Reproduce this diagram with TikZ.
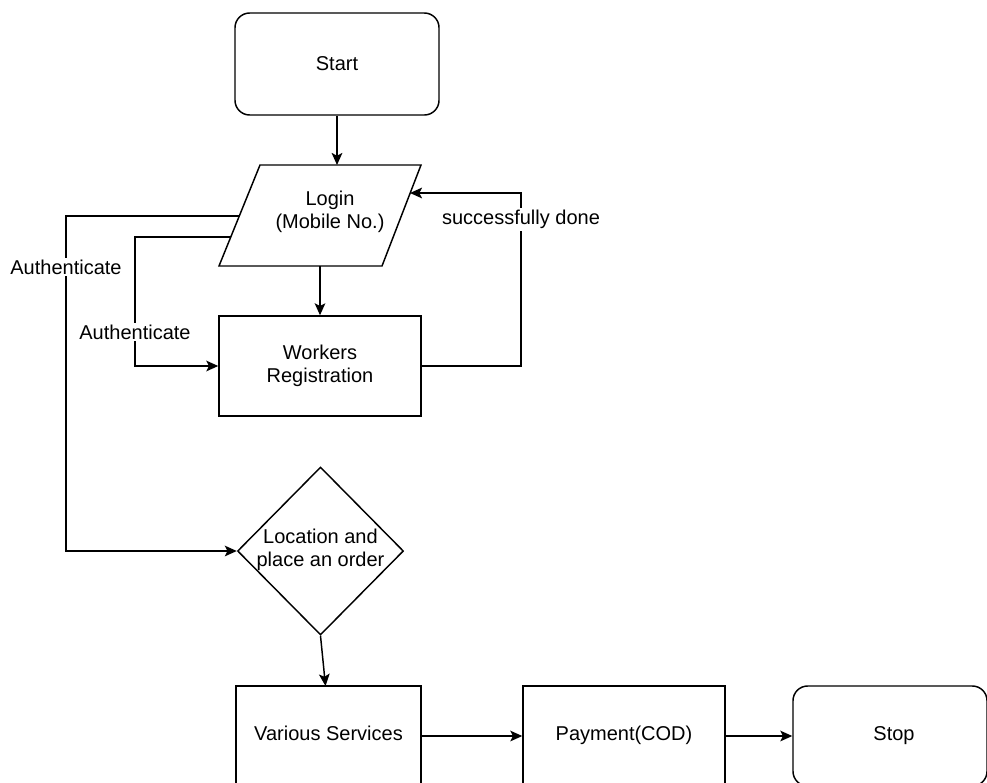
\documentclass[tikz,border=0pt]{standalone}
\usepackage{fontspec}
\setmainfont{Liberation Sans}
\usetikzlibrary{shapes.geometric,arrows.meta}
\begin{document}
\begin{tikzpicture}[x=0.75pt,y=-0.75pt,
  font=\fontsize{15}{17.5}\selectfont,
  line width=1.1pt,
  boxs/.style={draw=black, fill=white, inner sep=0pt, align=center},
  rbox/.style={boxs, rounded corners=11pt},
  dia/.style={draw=black, fill=white, diamond, inner sep=0pt, minimum width=124.5pt, minimum height=126pt},
  arr/.style={-{Stealth[length=9pt,width=8pt,inset=2pt]}},
  lbl/.style={fill=white, inner sep=1.5pt},
  btxt/.style={anchor=base, inner sep=0pt}]
\useasboundingbox (0,0) rectangle (987,782);
\clip (0,0) rectangle (987,782);
% Start
\node[rbox, minimum width=153pt, minimum height=76.5pt] (start) at (337,64) {Start};
% Login parallelogram
\coordinate (pBL) at (219,266);
\coordinate (pTL) at (260,165);
\coordinate (pTR) at (421,165);
\coordinate (pBR) at (382,266);
\draw[fill=white] (pBL) -- (pTL) -- (pTR) -- (pBR) -- cycle;
\node[align=center] (login) at (330,212) {Login\\(Mobile No.)};
\coordinate (loginTop) at (337,165);
\coordinate (loginBot) at (320,266);
\coordinate (loginR) at (410,193);
\coordinate (loginLa) at (239,216);
\coordinate (loginLb) at (231,237);
% Workers Registration
\node[boxs, minimum width=151.5pt, minimum height=75pt] (wr) at (320,366) {Workers\\Registration};
% Diamond
\node[dia] (loc) at (320.5,551) {};
\node[align=center] (loctext) at (320.5,550) {Location and\\place an order};
% Bottom row
\node[boxs, minimum width=138.75pt, minimum height=75pt] (vs) at (328.5,736) {};
\node[btxt] (vstext) at (328.5,740) {Various Services};
\node[boxs, minimum width=151.5pt, minimum height=75pt] (pay) at (624,736) {};
\node[btxt] (paytext) at (624,740) {Payment(COD)};
\node[rbox, minimum width=145.5pt, minimum height=75pt] (stop) at (890,736) {};
\node[btxt] (stoptext) at (894,740) {Stop};
% Connectors
\draw[arr] (start.south) -- (loginTop);
\draw[arr] (loginBot) -- (wr.north);
\coordinate (fb1) at (521,366);
\coordinate (fb2) at (521,193);
\draw[arr] (wr.east) -- (fb1) -- node[lbl, pos=0.845] {successfully done} (fb2) -- (loginR);
\coordinate (o1) at (66,216);
\coordinate (o2) at (66,551);
\draw[arr] (loginLa) -- (o1) -- node[lbl, pos=0.152] {Authenticate} (o2) -- (loc.west);
\coordinate (i1) at (135,237);
\coordinate (i2) at (135,366);
\draw[arr] (loginLb) -- (i1) -- node[lbl, pos=0.736] {Authenticate} (i2) -- (wr.west);
\coordinate (vsin) at (325.5,686);
\draw[arr] (loc.south) -- (vsin);
\draw[arr] (vs.east) -- (pay.west);
\draw[arr] (pay.east) -- (stop.west);
\end{tikzpicture}
\end{document}
